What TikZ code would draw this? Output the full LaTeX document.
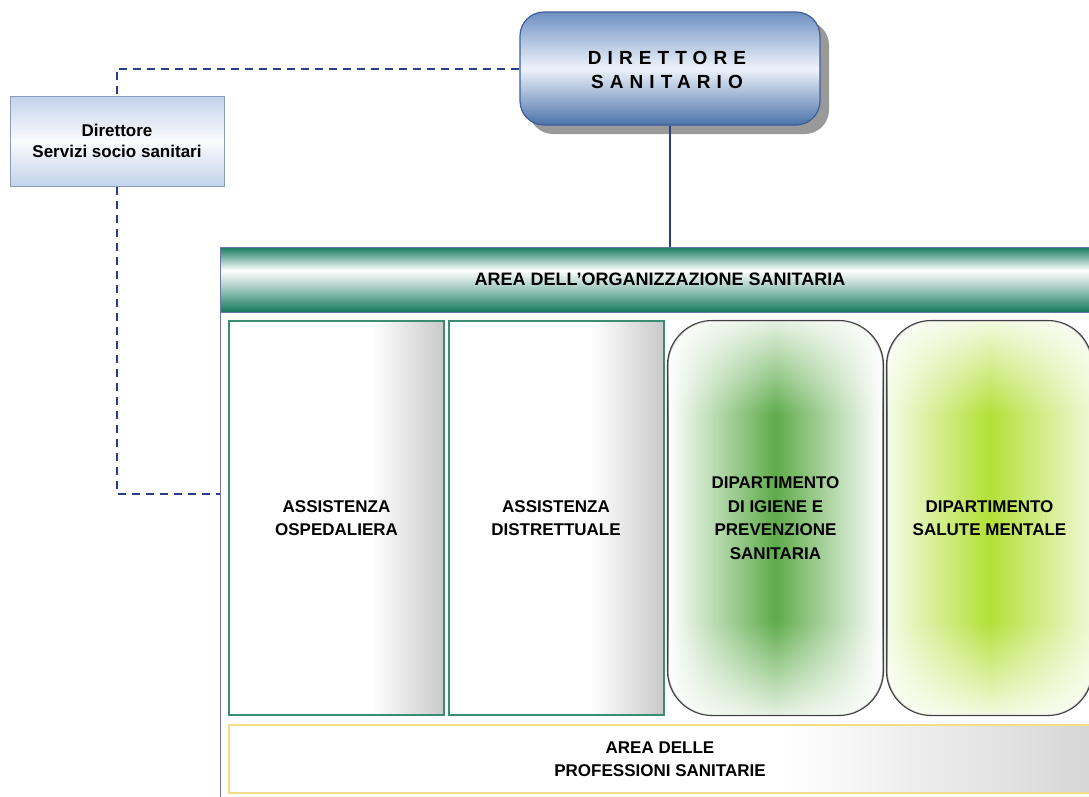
\documentclass[tikz,border=0pt]{standalone}
\usepackage{fontspec}
\setmainfont{Liberation Sans}
\usetikzlibrary{shadows,fadings}

\definecolor{tealdark}{HTML}{157A5C}
\definecolor{boxgreen}{HTML}{3A8E70}
\definecolor{dsblue}{HTML}{4C72AA}
\definecolor{dstop}{HTML}{6F91C2}
\definecolor{dslight}{HTML}{EEF3FA}
\definecolor{dsborder}{HTML}{3F5E99}
\definecolor{lineblue}{HTML}{2C3D88}
\definecolor{contline}{HTML}{6A78A8}
\definecolor{greenA}{HTML}{5EAB4A}
\definecolor{greenB}{HTML}{B2E036}
\definecolor{yel}{HTML}{F6DC86}
\definecolor{lbblue}{HTML}{C3D3EA}
\definecolor{lbborder}{HTML}{8A9BC0}

\pgfdeclarehorizontalshading{grayright}{100bp}{color(0bp)=(white); color(25bp)=(white); color(58bp)=(white); color(75bp)=(black!21); color(100bp)=(black!21)}
\pgfdeclarehorizontalshading{grayrightb}{100bp}{color(0bp)=(white); color(25bp)=(white); color(57bp)=(white); color(75bp)=(black!16); color(100bp)=(black!16)}
\pgfdeclarehorizontalshading{greenmidA}{100bp}{color(0bp)=(white); color(25bp)=(white); color(50bp)=(greenA); color(75bp)=(white); color(100bp)=(white)}
\pgfdeclarehorizontalshading{greenmidB}{100bp}{color(0bp)=(white); color(25bp)=(greenB!12); color(50bp)=(greenB); color(75bp)=(greenB!20); color(100bp)=(greenB!20)}
\pgfdeclareverticalshading{dsshade}{100bp}{color(0bp)=(dsblue); color(25bp)=(dsblue); color(50bp)=(dslight); color(75bp)=(dstop); color(100bp)=(dstop)}
\pgfdeclareverticalshading{hdrshade}{100bp}{color(0bp)=(tealdark); color(25bp)=(tealdark); color(45bp)=(tealdark!35); color(57bp)=(white); color(75bp)=(tealdark); color(100bp)=(tealdark)}
\pgfdeclareverticalshading{lbshade}{100bp}{color(0bp)=(lbblue); color(25bp)=(lbblue); color(50bp)=(white!92!lbblue); color(75bp)=(lbblue); color(100bp)=(lbblue)}
\pgfdeclareverticalshading{vfadesh}{100bp}{color(0bp)=(pgftransparent!15); color(25bp)=(pgftransparent!15); color(37bp)=(pgftransparent!100); color(63bp)=(pgftransparent!100); color(75bp)=(pgftransparent!15); color(100bp)=(pgftransparent!15)}
\pgfdeclarefading{vfade}{\pgfuseshading{vfadesh}}

\tikzset{
  lbl/.style={font=\bfseries\fontsize{17}{23.5}\selectfont, align=center, text=black},
  dsbox/.style={rounded corners=24pt, draw=dsborder, line width=1.2pt, shading=dsshade,
     minimum width=300pt, minimum height=113pt, inner sep=0pt,
     drop shadow={shadow xshift=9pt, shadow yshift=-9pt, fill=black!40, opacity=1}},
  lbbox/.style={draw=lbborder, line width=1pt, shading=lbshade, minimum width=214pt,
     minimum height=90pt, inner sep=0pt, align=center,
     font=\bfseries\fontsize{17}{21}\selectfont},
  hdrbox/.style={shading=hdrshade, draw=contline, line width=0.8pt, minimum width=880pt,
     minimum height=65pt, inner sep=0pt, font=\bfseries\fontsize{18}{22}\selectfont},
  sqbox/.style={draw=boxgreen, line width=2pt, shading=grayright, minimum width=215pt,
     minimum height=394pt, inner sep=0pt, lbl},
  rdbox/.style={draw=black!75, line width=1.1pt, rounded corners=45pt, minimum height=394pt,
     inner sep=0pt, lbl},
  profbox/.style={draw=yel, line width=2.2pt, shading=grayrightb, minimum width=862pt,
     minimum height=68pt, inner sep=0pt, lbl},
  dashline/.style={draw=lineblue, line width=2pt, dash pattern=on 8pt off 6pt},
  solidline/.style={draw=lineblue, line width=1.8pt}
}

\begin{document}
\begin{tikzpicture}[x=1pt,y=-1pt]
\useasboundingbox (0,0) rectangle (1089,796);
\clip (0,0) rectangle (1089,796);

% container left edge
\draw[contline, line width=1pt] (220,247) -- (220,800);

% header
\node[hdrbox] (hdr) at (660,279.5) {AREA DELL’ORGANIZZAZIONE SANITARIA};

% director
\node[dsbox] (ds) at (670,68.5) {};
\node[font=\bfseries\fontsize{19}{24}\selectfont\addfontfeature{LetterSpace=32}, align=center, inner sep=0pt] (dstext) at ([xshift=-3pt,yshift=-1pt]ds.center) {DIRETTORE\\SANITARIO};

% left box
\node[lbbox] (lb) at (117,141) {Direttore\\Servizi socio sanitari};

% boxes
\node[sqbox] (b1) at (336.5,518) {ASSISTENZA\\OSPEDALIERA};
\node[sqbox] (b2) at (556,518) {ASSISTENZA\\DISTRETTUALE};

\node[rdbox, minimum width=215pt, shading=greenmidA] (b3) at (775.5,518) {};
\fill[white, path fading=vfade, rounded corners=45pt] (b3.north west) rectangle (b3.south east);
\draw[black!75, line width=1.1pt, rounded corners=45pt] (b3.north west) rectangle (b3.south east);
\node[lbl] (b3t) at (b3.center) {DIPARTIMENTO\\DI IGIENE E\\PREVENZIONE\\SANITARIA};

\node[rdbox, minimum width=205pt, shading=greenmidB] (b4) at (989.5,518) {};
\fill[white, path fading=vfade, rounded corners=45pt] (b4.north west) rectangle (b4.south east);
\draw[black!75, line width=1.1pt, rounded corners=45pt] (b4.north west) rectangle (b4.south east);
\node[lbl] (b4t) at (b4.center) {DIPARTIMENTO\\SALUTE MENTALE};

\node[profbox] (pb) at (660,759) {AREA DELLE\\PROFESSIONI SANITARIE};

% connectors
\coordinate (cin) at (220,494);
\draw[dashline] (ds.west) -| (lb.north);
\draw[dashline] (lb.south) |- (cin);
\draw[solidline] (ds.south) -- (ds.south |- hdr.north);
\end{tikzpicture}
\end{document}
